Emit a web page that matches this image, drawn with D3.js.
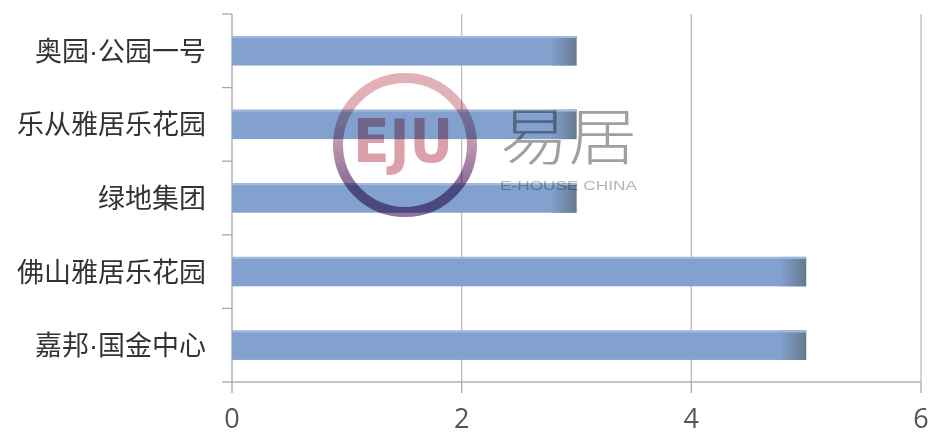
<!DOCTYPE html>
<html><head><meta charset="utf-8">
<script src="https://cdn.jsdelivr.net/npm/d3@7"></script>
<style>body{margin:0;background:#fff}svg{display:block}</style>
</head><body>
<svg id="c" width="930" height="435"></svg>
<script>
const categories = ["奥园·公园一号","乐从雅居乐花园","绿地集团","佛山雅居乐花园","嘉邦·国金中心"];
const values = [3,3,3,5,5];
const xTicks = [0,2,4,6];

const svg = d3.select("#c");
const x = d3.scaleLinear().domain([0,6]).range([232,921]);
const y = d3.scaleBand().domain(categories).range([14,382]).paddingInner(0.6).paddingOuter(0.3);

const defs = svg.append("defs");
const g1 = defs.append("linearGradient").attr("id","endg").attr("x1","0").attr("x2","1").attr("y1","0").attr("y2","0");
g1.append("stop").attr("offset","0").attr("stop-color","#82a1cf");
g1.append("stop").attr("offset","1").attr("stop-color","#67798f");
const g2 = defs.append("linearGradient").attr("id","ring").attr("x1","0").attr("x2","0").attr("y1","0").attr("y2","1");
g2.append("stop").attr("offset","0.3").attr("stop-color","#dca3ab");
g2.append("stop").attr("offset","0.75").attr("stop-color","#7e5a8c");

// gridlines
svg.append("g").selectAll("line").data(xTicks.filter(d=>d>0)).join("line")
  .attr("x1",d=>x(d)).attr("x2",d=>x(d)).attr("y1",14).attr("y2",382)
  .attr("stroke","#bcbcbc").attr("stroke-width",1.3);

// y axis line & ticks
const bounds = categories.map(c=>y(c)-y.step()*y.paddingInner()/2).concat([382]);
bounds[0] = 14;
svg.append("line").attr("x1",x(0)).attr("x2",x(0)).attr("y1",14).attr("y2",382).attr("stroke","#a8a8a8").attr("stroke-width",1.3);
svg.append("g").selectAll("line").data(bounds).join("line")
  .attr("x1",x(0)-10).attr("x2",x(0)).attr("y1",d=>d).attr("y2",d=>d).attr("stroke","#a8a8a8").attr("stroke-width",1.3);

// x axis
svg.append("line").attr("x1",x(0)).attr("x2",x(6)).attr("y1",382).attr("y2",382).attr("stroke","#b0b0b0").attr("stroke-width",1.5);
svg.append("g").selectAll("line").data(xTicks).join("line")
  .attr("x1",d=>x(d)).attr("x2",d=>x(d)).attr("y1",382).attr("y2",393).attr("stroke","#a8a8a8").attr("stroke-width",1.3);
svg.append("g").selectAll("text").data(xTicks).join("text")
  .attr("x",d=>x(d)).attr("y",428).attr("text-anchor","middle")
  .attr("font-family","'Open Sans', 'Noto Sans', sans-serif").attr("font-size",27).attr("fill","#555")
  .text(d=>d);

// bars
const bars = svg.append("g");
bars.selectAll("rect.m").data(values).join("rect").attr("class","m")
  .attr("x",x(0)).attr("y",(d,i)=>y(categories[i])).attr("width",d=>x(d)-x(0)).attr("height",y.bandwidth())
  .attr("fill","#82a1cf");
bars.selectAll("rect.e").data(values).join("rect").attr("class","e")
  .attr("x",d=>x(d)-26).attr("y",(d,i)=>y(categories[i])).attr("width",26).attr("height",y.bandwidth())
  .attr("fill","url(#endg)");
bars.selectAll("rect.t").data(values).join("rect").attr("class","t")
  .attr("x",x(0)).attr("y",(d,i)=>y(categories[i])).attr("width",d=>x(d)-x(0)).attr("height",2)
  .attr("fill","#a0b9dd");

// category labels (narrow middle dot in a Latin font)
const lbl = svg.append("g").selectAll("text").data(categories).join("text")
  .attr("x",206).attr("y",c=>y(c)+y.bandwidth()/2+10).attr("text-anchor","end")
  .attr("font-family","'Noto Sans CJK SC', sans-serif").attr("font-size",27).attr("fill","#333");
lbl.each(function(d){
  const t = d3.select(this);
  d.split(/(·)/).filter(s=>s.length).forEach(s=>{
    const ts = t.append("tspan").text(s);
    if (s === "·") ts.attr("font-family","'Liberation Sans', sans-serif");
  });
});

// watermark
const wm = svg.append("g").style("mix-blend-mode","multiply");
wm.append("circle").attr("cx",405).attr("cy",145).attr("r",67).attr("fill","none")
  .attr("stroke","url(#ring)").attr("stroke-width",10).attr("opacity",0.85);
wm.append("text").attr("x",353).attr("y",162).attr("textLength",100).attr("lengthAdjust","spacingAndGlyphs")
  .attr("font-family","'Liberation Sans Narrow','DejaVu Sans Condensed',sans-serif").attr("font-weight","bold")
  .attr("font-size",60).attr("fill","#dba0a9").text("EJU");
wm.append("text").attr("x",500).attr("y",160).attr("textLength",137).attr("lengthAdjust","spacingAndGlyphs")
  .attr("font-family","'Noto Sans CJK SC',sans-serif").attr("font-weight",300)
  .attr("font-size",62).attr("fill","#a0a0a0").text("易居");
wm.append("text").attr("x",500).attr("y",190).attr("textLength",137).attr("lengthAdjust","spacingAndGlyphs")
  .attr("font-family","'Liberation Sans',sans-serif")
  .attr("font-size",12).attr("fill","#b5b5b5").text("E-HOUSE CHINA");
</script>
</body></html>
